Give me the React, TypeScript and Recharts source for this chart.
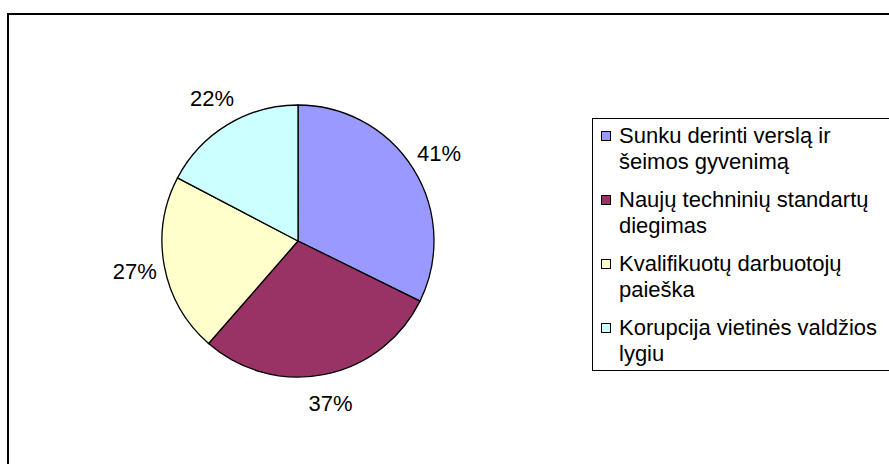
import { PieChart, Pie, Cell, Legend } from 'recharts'

const categories = [
  'Sunku derinti verslą ir šeimos gyvenimą',
  'Naujų techninių standartų diegimas',
  'Kvalifikuotų darbuotojų paieška',
  'Korupcija vietinės valdžios lygiu',
]
const shares = [41, 37, 27, 22]
const colors = ['#9999FF', '#993366', '#FFFFCC', '#CCFFFF']

const data = categories.map((name, i) => ({ name, value: shares[i] }))

const FONT = '"Liberation Sans", Arial, sans-serif'
const RADIAN = Math.PI / 180

const renderLabel = (props: any) => {
  const { cx, cy, midAngle, outerRadius, value } = props
  const r = outerRadius + 30
  const x = cx + r * Math.cos(-midAngle * RADIAN)
  const y = cy + r * Math.sin(-midAngle * RADIAN)
  return (
    <text x={x} y={y} textAnchor="middle" dominantBaseline="central" fill="#000" fontSize={22} fontFamily={FONT}>
      {value}%
    </text>
  )
}

const renderLegend = () => (
  <div style={{ border: '1.5px solid #000', background: '#fff', width: 320, padding: '4px 0 3px 8px', fontFamily: FONT, boxSizing: 'border-box' }}>
    {categories.map((name, i) => (
      <div key={name} style={{ display: 'flex', alignItems: 'flex-start', marginBottom: i < categories.length - 1 ? 12 : 0 }}>
        <div style={{ width: 10, height: 10, border: '1px solid #000', background: colors[i], marginTop: 8, marginRight: 8, boxSizing: 'border-box', flex: 'none' }} />
        <div style={{ width: 272, fontSize: 22, lineHeight: '26px', color: '#000' }}>{name}</div>
      </div>
    ))}
  </div>
)

export default function App() {
  return (
    <div style={{ position: 'absolute', left: 0, top: 0, width: 889, height: 464, overflow: 'hidden', background: '#fff' }}>
      <div style={{ position: 'absolute', left: 7, top: 13, width: 900, height: 480, border: '2px solid #000' }} />
      <div style={{ position: 'absolute', left: 0, top: 0 }}>
        <PieChart width={889} height={464} margin={{ top: 0, right: 0, bottom: 0, left: 0 }}>
          <Pie
            data={data}
            dataKey="value"
            nameKey="name"
            cx={298}
            cy={241}
            outerRadius={136}
            startAngle={90}
            endAngle={-270}
            stroke="#000"
            strokeWidth={1.3}
            label={renderLabel}
            labelLine={false}
            isAnimationActive={false}
          >
            {data.map((d, i) => (
              <Cell key={d.name} fill={colors[i]} />
            ))}
          </Pie>
          <Legend content={renderLegend} wrapperStyle={{ position: 'absolute', left: 592, top: 118, width: 320 }} />
        </PieChart>
      </div>
    </div>
  )
}
